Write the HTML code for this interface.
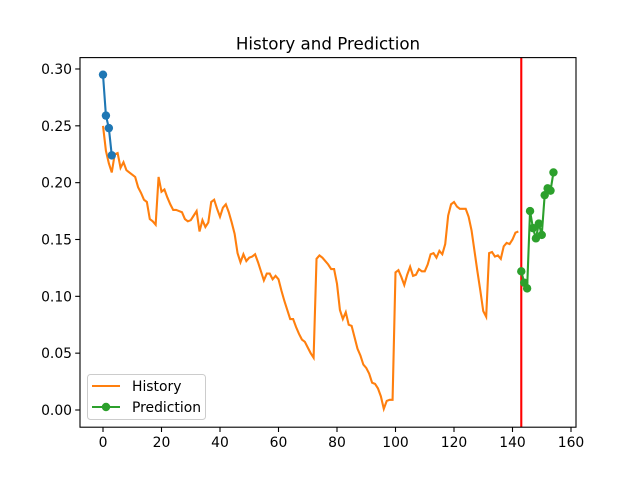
<!DOCTYPE html>
<html><head><meta charset="utf-8"><style>
body{margin:0;background:#fff}
text{font-family:"DejaVu Sans","Liberation Sans",sans-serif;fill:#000}
</style></head><body>
<svg id="chart" width="640" height="480" viewBox="0 0 640 480" xmlns="http://www.w3.org/2000/svg">
<rect width="640" height="480" fill="#fff"/>
<text x="328" y="49.5" font-size="16.7" text-anchor="middle">History and Prediction</text>
<g id="plot"></g>
<rect x="80" y="57.6" width="496" height="369.6" fill="none" stroke="#000" stroke-width="1.1"/>
<g>
<rect x="87.5" y="374.5" width="118" height="45" rx="3" fill="#fff" fill-opacity="0.8" stroke="#ccc"/>
<line x1="92" y1="386" x2="120" y2="386" stroke="#ff7f0e" stroke-width="2.1"/>
<text x="132" y="391" font-size="13.9">History</text>
<line x1="92" y1="407" x2="120" y2="407" stroke="#2ca02c" stroke-width="2.1"/>
<circle cx="106" cy="407" r="4.2" fill="#2ca02c"/>
<text x="132" y="412" font-size="13.9">Prediction</text>
</g>
</svg>
<script>
const historyVals=[0.25,0.228,0.217,0.209,0.225,0.226,0.213,0.218,0.211,0.209,0.207,0.205,0.196,0.191,0.185,0.183,0.168,0.166,0.163,0.205,0.192,0.194,0.187,0.181,0.176,0.176,0.175,0.174,0.168,0.166,0.167,0.171,0.175,0.157,0.167,0.161,0.165,0.183,0.185,0.177,0.170,0.178,0.181,0.174,0.165,0.155,0.138,0.130,0.137,0.131,0.134,0.135,0.137,0.130,0.122,0.114,0.120,0.120,0.115,0.118,0.115,0.105,0.096,0.088,0.080,0.080,0.073,0.067,0.062,0.060,0.055,0.050,0.046,0.133,0.136,0.134,0.131,0.128,0.124,0.124,0.111,0.088,0.080,0.086,0.075,0.074,0.064,0.054,0.048,0.040,0.037,0.032,0.024,0.023,0.019,0.012,0.001,0.008,0.009,0.009,0.121,0.123,0.117,0.110,0.119,0.126,0.118,0.119,0.124,0.122,0.122,0.128,0.137,0.138,0.134,0.140,0.137,0.146,0.171,0.181,0.183,0.179,0.177,0.177,0.177,0.170,0.158,0.140,0.122,0.105,0.087,0.082,0.138,0.139,0.135,0.136,0.133,0.144,0.147,0.146,0.150,0.156,0.157];
const blueX=[0,1,2,3];
const blueVals=[0.295,0.259,0.248,0.224];
const predX=[143,144,145,146,147,148,149,150,151,152,153,154];
const predVals=[0.122,0.112,0.107,0.175,0.160,0.151,0.164,0.154,0.189,0.195,0.193,0.209];
const splitX=143;
const xTicks=[0,20,40,60,80,100,120,140,160];
const yTicks=[0,0.05,0.10,0.15,0.20,0.25,0.30];
const yLabels=["0.00","0.05","0.10","0.15","0.20","0.25","0.30"];

const NS="http://www.w3.org/2000/svg";
const sx=v=>103+v*2.925;
const sy=v=>410-v*1136.7;
const g=document.getElementById('plot');
function mk(t,a){const e=document.createElementNS(NS,t);for(const k in a)e.setAttribute(k,a[k]);g.appendChild(e);return e;}
xTicks.forEach((t,i)=>{
 const l=mk('line',{x1:sx(t),x2:sx(t),y1:427.2,y2:432,stroke:'#000','stroke-width':1.1});
 
 
 const tx=mk('text',{x:sx(t),y:447,'font-size':13.9,'text-anchor':'middle'});
 tx.textContent=t;
 
 
});
yTicks.forEach((t,i)=>{
 const l=mk('line',{x1:75.2,x2:80,y1:sy(t),y2:sy(t),stroke:'#000','stroke-width':1.1});
 
 
 const tx=mk('text',{x:72,y:sy(t)+5,'font-size':13.9,'text-anchor':'end'});
 tx.textContent=yLabels[i];
 
 
});
const hp=mk('polyline',{points:historyVals.map((v,i)=>sx(i)+','+sy(v)).join(' '),fill:'none',stroke:'#ff7f0e','stroke-width':2.1});


const bp=mk('polyline',{points:blueVals.map((v,i)=>sx(blueX[i])+','+sy(v)).join(' '),fill:'none',stroke:'#1f77b4','stroke-width':2.1});


blueVals.forEach((v,i)=>{const c=mk('circle',{cx:sx(blueX[i]),cy:sy(v),r:4.2,fill:'#1f77b4'});
 
 });
const rl=mk('line',{x1:sx(splitX),x2:sx(splitX),y1:57.6,y2:427.2,stroke:'#ff0000','stroke-width':2.1});


const pp=mk('polyline',{points:predVals.map((v,i)=>sx(predX[i])+','+sy(v)).join(' '),fill:'none',stroke:'#2ca02c','stroke-width':2.1});


predVals.forEach((v,i)=>{const c=mk('circle',{cx:sx(predX[i]),cy:sy(v),r:4.2,fill:'#2ca02c'});
 
 });
</script>
</body></html>
